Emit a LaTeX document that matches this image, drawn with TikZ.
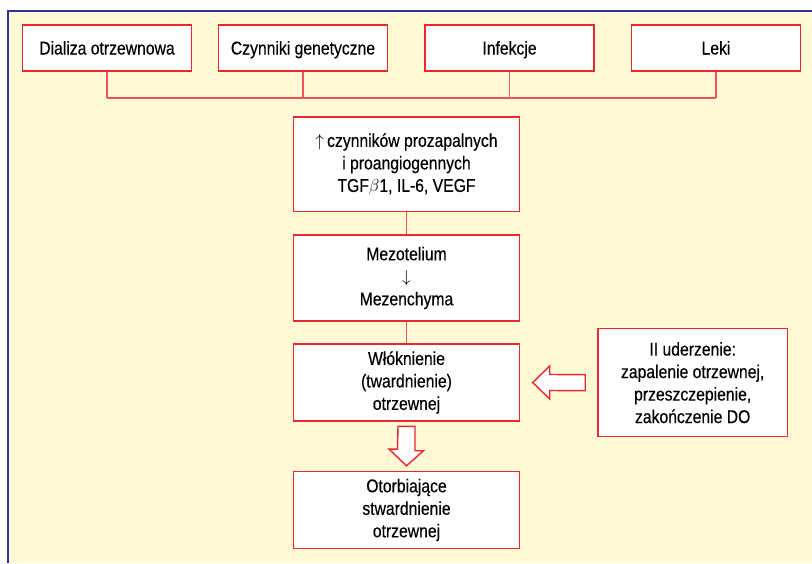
\documentclass[tikz,border=0pt]{standalone}
\usepackage{fontspec}
\setmainfont{Liberation Sans}[FakeStretch=0.85,FakeBold=0.3]
\usetikzlibrary{calc}
\definecolor{boxred}{RGB}{232,40,48}
\definecolor{linkred}{RGB}{238,84,84}
\definecolor{bgcream}{RGB}{255,249,214}
\definecolor{frameblue}{RGB}{50,50,150}

\begin{document}
\begin{tikzpicture}[x=1pt,y=-1pt,
  box/.style={draw=boxred,line width=1.4pt,fill=white,align=center,inner sep=0pt,
    font=\fontsize{18.5}{22.5}\selectfont},
  topbox/.style={box,minimum width=169,minimum height=46,text height=13,text depth=0},
  link/.style={draw=linkred,line width=1.3pt},
  blockarrow/.style={draw=boxred,line width=1.4pt,fill=white,line join=miter}]
\useasboundingbox (0,0) rectangle (812,563);
\fill[bgcream] (8,11) rectangle (812,563);
\draw[frameblue,line width=2.6pt] (8,563) -- (8,11) -- (812,11);

\node[topbox] (dial) at (107,48) {Dializa otrzewnowa};
\node[topbox] (gen) at (303,48) {Czynniki genetyczne};
\node[topbox] (inf) at (509.5,48) {Infekcje};
\node[topbox] (leki) at (716,48) {Leki};

\node[box,minimum width=226,minimum height=94.5] (czyn) at (406.5,164.25)
  {$\uparrow$\,czynników prozapalnych\\i proangiogennych\\TGF$\beta$1, IL-6, VEGF};
\node[box,minimum width=226,minimum height=86] (mezo) at (406.5,278)
  {Mezotelium\\$\downarrow$\\Mezenchyma};
\node[box,minimum width=226,minimum height=77] (wlok) at (406.5,382.5)
  {Włóknienie\\(twardnienie)\\otrzewnej};
\node[box,minimum width=226,minimum height=77] (otor) at (406.5,510)
  {Otorbiające\\stwardnienie\\otrzewnej};
\node[box,minimum width=189.5,minimum height=108] (uderz) at (692.7,382.7)
  {II uderzenie:\\zapalenie otrzewnej,\\przeszczepienie,\\zakończenie DO};

\coordinate (bus) at (0,98);
\foreach \n in {dial,gen,inf,leki}
  \draw[link] (\n.south) -- (\n.south |- bus);
\draw[link] (dial.south |- bus) -- (leki.south |- bus);
\draw[link] (czyn) -- (mezo);
\draw[link] (mezo) -- (wlok);

\draw[blockarrow] ($(wlok.south)+(-8.5,4.7)$) -- ++(17,0) -- ++(0,24.3) -- ++(8.5,0)
  -- ($(otor.north)+(0,-5)$) -- ++(-17.5,-16.7) -- ++(8.5,0) -- cycle;
\draw[blockarrow] ($(wlok.east)+(12.5,0)$) -- ++(17,-16.5) -- ++(0,8.5)
  -- ($(uderz.west)+(-12,-8)$) -- ++(0,16) -- ($(wlok.east)+(29.5,8)$) -- ++(0,8.5) -- cycle;
\end{tikzpicture}
\end{document}
